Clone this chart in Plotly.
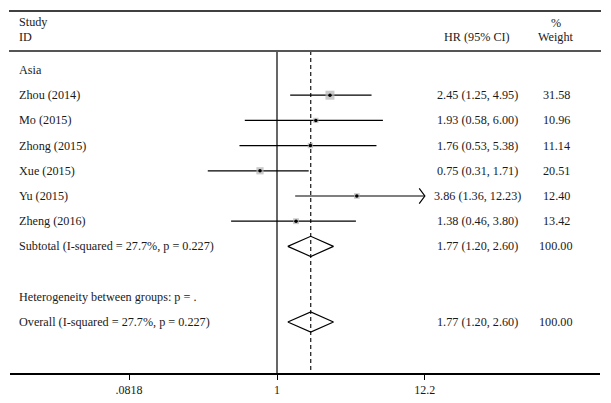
import math

import plotly.graph_objects as go

# data
region = 'Asia'
studies = ['Zhou (2014)', 'Mo (2015)', 'Zhong (2015)', 'Xue (2015)', 'Yu (2015)', 'Zheng (2016)']
hr = [2.45, 1.93, 1.76, 0.75, 3.86, 1.38]
ci_low = [1.25, 0.58, 0.53, 0.31, 1.36, 0.46]
ci_high = [4.95, 6.00, 5.38, 1.71, 12.23, 3.80]
weights = [31.58, 10.96, 11.14, 20.51, 12.40, 13.42]

pooled_hr = 1.77
pooled_low = 1.20
pooled_high = 2.60
subtotal_label = 'Subtotal (I-squared = 27.7%, p = 0.227)'
overall_label = 'Overall (I-squared = 27.7%, p = 0.227)'
hetero_label = 'Heterogeneity between groups: p = .'

tick_vals = [0.0818, 1, 12.2]
tick_text = ['.0818', '1', '12.2']

FONT = 'Liberation Serif, Times New Roman, serif'
OFF = 8                      # the page body adds an 8px margin
W, H = 611 - OFF, 403 - OFF
AXIS_Y = 373 - OFF           # axis line, in figure pixels
ML, MR = 10 - OFF, 11
MB = H - AXIS_Y
AXIS_MAX = tick_vals[-1]
ROW0, ROW_STEP = 70 - OFF, 25.2
PX_PER_DECADE = 136.1
NULL_PX = 277 - OFF


def px_to_paper(px):
    """x position in reference pixels -> paper coordinate"""
    return (px - OFF - ML) / (W - ML - MR)


def diamond(row, low, mid, high, half=0.4):
    return go.Scatter(x=[low, mid, high, mid, low], y=[row, row - half, row, row + half, row],
                      mode='lines', line=dict(color='black', width=1.2), hoverinfo='skip')


fig = go.Figure()

# reference lines: null effect and pooled estimate
top_row, bottom_row = -0.75, 12.2
fig.add_trace(go.Scatter(x=[1, 1], y=[top_row, bottom_row], mode='lines',
                         line=dict(color='black', width=1.2), hoverinfo='skip'))
fig.add_trace(go.Scatter(x=[pooled_hr, pooled_hr], y=[top_row, bottom_row], mode='lines',
                         line=dict(color='black', width=1.1, dash='4px,3px'), hoverinfo='skip'))

study_rows = list(range(1, len(studies) + 1))

# confidence intervals (clipped at the axis end, with an arrow)
for row, lo, hi in zip(study_rows, ci_low, ci_high):
    end = min(hi, AXIS_MAX)
    fig.add_trace(go.Scatter(x=[lo, end], y=[row, row], mode='lines',
                             line=dict(color='black', width=1.2), hoverinfo='skip'))
    if hi > AXIS_MAX:
        back = AXIS_MAX / 1.1
        fig.add_trace(go.Scatter(x=[back, AXIS_MAX, back], y=[row - 0.3, row, row + 0.3], mode='lines',
                                 line=dict(color='black', width=1.2), hoverinfo='skip'))

# weight boxes and point estimates
fig.add_trace(go.Scatter(x=hr, y=study_rows, mode='markers', hoverinfo='skip',
                         marker=dict(symbol='square', color='#b4b4b4',
                                     size=[1.6 * math.sqrt(w) for w in weights],
                                     line=dict(width=0))))
fig.add_trace(go.Scatter(x=hr, y=study_rows, mode='markers', hoverinfo='skip',
                         marker=dict(symbol='circle', color='black', size=3.5)))

subtotal_row, hetero_row, overall_row = 7, 9, 10
fig.add_trace(diamond(subtotal_row, pooled_low, pooled_hr, pooled_high))
fig.add_trace(diamond(overall_row, pooled_low, pooled_hr, pooled_high))

# text columns
annotations = []


def add_text(px, row, text, anchor='left'):
    annotations.append(dict(x=px_to_paper(px), xref='paper', y=row, yref='y', text=text,
                            showarrow=False, xanchor=anchor, yanchor='middle',
                            font=dict(family=FONT, size=12.2, color='#1a1a1a')))


add_text(17, -1.9, 'Study')
add_text(17, -1.3, 'ID')
add_text(477, -1.3, 'HR (95% CI)', 'center')
add_text(556, -1.85, '%', 'center')
add_text(556, -1.3, 'Weight', 'center')

add_text(17, 0, region)
for row, name, h, lo, hi, w in zip(study_rows, studies, hr, ci_low, ci_high, weights):
    add_text(17, row, name)
    add_text(477, row, f'{h:.2f} ({lo:.2f}, {hi:.2f})', 'center')
    add_text(556, row, f'{w:.2f}', 'center')

pooled_text = f'{pooled_hr:.2f} ({pooled_low:.2f}, {pooled_high:.2f})'
add_text(17, subtotal_row, subtotal_label)
add_text(477, subtotal_row, pooled_text, 'center')
add_text(556, subtotal_row, '100.00', 'center')
add_text(17, hetero_row, hetero_label)
add_text(17, overall_row, overall_label)
add_text(477, overall_row, pooled_text, 'center')
add_text(556, overall_row, '100.00', 'center')

shapes = [
    dict(type='line', xref='paper', yref='y', x0=px_to_paper(9), x1=px_to_paper(601),
         y0=-2.34, y1=-2.34, line=dict(color='black', width=1.5)),
    dict(type='line', xref='paper', yref='y', x0=px_to_paper(9), x1=px_to_paper(601),
         y0=-0.75, y1=-0.75, line=dict(color='#555', width=2)),
]

x_lo = math.log10(tick_vals[1]) - (NULL_PX - ML) / PX_PER_DECADE
x_hi = math.log10(tick_vals[1]) + (W - MR - NULL_PX) / PX_PER_DECADE

fig.update_layout(
    width=W, height=H,
    margin=dict(l=ML, r=MR, t=0, b=MB, pad=0),
    paper_bgcolor='white', plot_bgcolor='white',
    showlegend=False,
    annotations=annotations,
    shapes=shapes,
    xaxis=dict(type='log', range=[x_lo, x_hi], tickvals=tick_vals, ticktext=tick_text,
               ticks='outside', ticklen=5, tickcolor='black', showgrid=False, zeroline=False,
               showline=True, linecolor='black', linewidth=1.5,
               tickfont=dict(family=FONT, size=12, color='#1a1a1a'), fixedrange=True),
    yaxis=dict(range=[(AXIS_Y - ROW0) / ROW_STEP, -ROW0 / ROW_STEP], visible=False, showgrid=False,
               zeroline=False, fixedrange=True),
)

fig.write_html('out.html')
